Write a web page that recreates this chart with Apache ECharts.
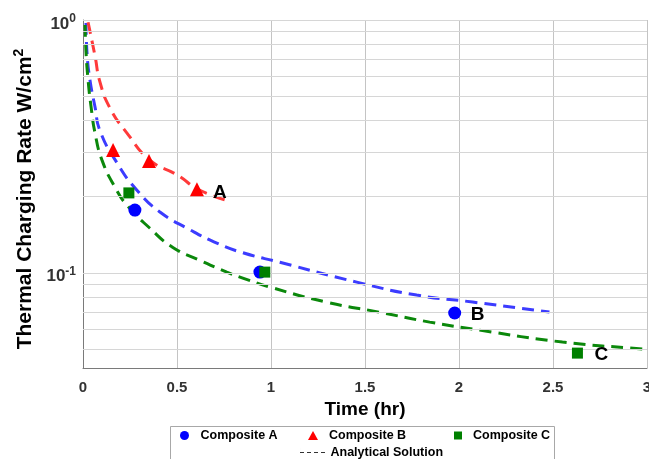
<!DOCTYPE html>
<html>
<head>
<meta charset="utf-8">
<script src="https://cdn.jsdelivr.net/npm/echarts@6/dist/echarts.min.js"></script>
<style>
html,body{margin:0;padding:0;background:#fff}
#chart{width:649px;height:459px}
</style>
</head>
<body>
<div id="chart"></div>
<script>
// 解析解曲线
var curveA_t = [0.016, 0.021, 0.037, 0.064, 0.09, 0.181, 0.287, 0.409, 0.569, 0.712, 0.850, 1.047, 1.456, 1.775, 2.072, 2.481];
var curveA_q = [0.973, 0.747, 0.579, 0.453, 0.365, 0.272, 0.212, 0.174, 0.148, 0.131, 0.120, 0.110, 0.0918, 0.0816, 0.0766, 0.0699];
var curveB_t = [0.027, 0.064, 0.09, 0.143, 0.234, 0.356, 0.50, 0.622, 0.78];
var curveB_q = [0.98, 0.72, 0.569, 0.449, 0.357, 0.279, 0.244, 0.212, 0.192];
var curveC_t = [0.011, 0.016, 0.027, 0.043, 0.064, 0.101, 0.170, 0.234, 0.356, 0.478, 0.622, 0.765, 0.850, 0.994, 1.296, 1.578, 1.844, 2.109, 2.550, 2.975, 3.0];
var curveC_q = [0.955, 0.747, 0.579, 0.453, 0.357, 0.279, 0.218, 0.185, 0.150, 0.126, 0.112, 0.1006, 0.0953, 0.0878, 0.0765, 0.0698, 0.0638, 0.0593, 0.0532, 0.0499, 0.0497];

// 实验点
var pointsA_t = [0.276, 0.941, 1.977];
var pointsA_q = [0.177, 0.1006, 0.0693];
var pointsB_t = [0.16, 0.351, 0.606];
var pointsB_q = [0.306, 0.277, 0.214];
var pointsC_t = [0.244, 0.967, 2.63];
var pointsC_q = [0.207, 0.1006, 0.0481];

// 网格线位置
var yGridValues = [0.05, 0.06, 0.07, 0.08, 0.09, 0.1, 0.2, 0.3, 0.4, 0.5, 0.6, 0.7, 0.8, 0.9, 1];

function zip(xs, ys) {
    var out = [];
    for (var i = 0; i < xs.length; i++) out.push([xs[i], ys[i]]);
    return out;
}

// 最后一个点带字母标注
function withTag(xs, ys, tag, off) {
    var d = zip(xs, ys);
    var last = d.length - 1;
    d[last] = {
        value: d[last],
        label: {show: true, formatter: tag, position: 'inside', offset: off,
            color: '#000', fontSize: 19, fontWeight: 'bold', fontFamily: 'Liberation Sans, Arial'}
    };
    return d;
}

var myChart = echarts.init(document.getElementById('chart'));

var dash = [12, 7];
var font = 'Liberation Sans, Arial, sans-serif';

var legendBase = {
    orient: 'horizontal',
    padding: 0,
    itemWidth: 10,
    itemHeight: 9,
    selectedMode: false,
    textStyle: {fontSize: 12.5, fontWeight: 'bold', color: '#000', fontFamily: font, padding: [0, 0, 0, 6]}
};

var option = {
    animation: false,
    backgroundColor: '#fff',
    grid: {left: 83, right: 2, top: 20, bottom: 91, containLabel: false, outerBoundsMode: 'none'},
    graphic: {
        elements: [{
            type: 'rect', z: -10,
            shape: {x: 170.5, y: 426.5, width: 384, height: 40},
            style: {fill: '#fff', stroke: '#a8a8a8', lineWidth: 1}
        }]
    },
    legend: [
        echarts.util.merge({left: 180, top: 429, data: [{name: 'Composite A', icon: 'circle'}]}, legendBase, false),
        echarts.util.merge({left: 308, top: 429, data: [{name: 'Composite B', icon: 'triangle'}]}, legendBase, false),
        echarts.util.merge({left: 454, top: 429, itemWidth: 8, itemHeight: 8,
            data: [{name: 'Composite C', icon: 'rect'}]}, legendBase, false),
        echarts.util.merge({left: 300, top: 446, itemWidth: 26, itemHeight: 9,
            textStyle: {padding: [0, 0, 0, 0]},
            data: [{name: 'Analytical Solution',
                icon: 'path://M0,4h4v1h-4z M7,4h4v1h-4z M14,4h4v1h-4z M21,4h4v1h-4z M0,0h0.01v9h-0.01z'}]}, legendBase, false)
    ],
    xAxis: {
        type: 'value',
        min: 0, max: 3, interval: 0.5,
        name: 'Time (hr)',
        nameLocation: 'middle',
        nameGap: 31,
        nameTextStyle: {fontSize: 19, fontWeight: 'bold', color: '#000', fontFamily: font},
        axisLine: {show: true, onZero: false, lineStyle: {color: '#7a7a7a', width: 1}},
        axisTick: {show: false},
        axisLabel: {margin: 12, fontSize: 15, fontWeight: 'bold', color: '#333', fontFamily: font},
        splitLine: {show: true, lineStyle: {color: '#c4c4c4', width: 1}}
    },
    yAxis: {
        type: 'log',
        logBase: 10,
        min: 0.042, max: 1,
        name: 'Thermal Charging Rate W/cm{sup|2}',
        nameLocation: 'middle',
        nameGap: 33,
        nameTextStyle: {
            fontSize: 21, fontWeight: 'bold', color: '#000', fontFamily: font,
            padding: [0, 10, 0, 0],
            rich: {sup: {fontSize: 14, fontWeight: 'bold', color: '#000', fontFamily: font, padding: [0, 0, 12, 0]}}
        },
        axisLine: {show: true, lineStyle: {color: '#7a7a7a', width: 1}},
        axisTick: {show: false},
        splitLine: {show: false},
        axisLabel: {
            margin: 7,
            padding: [8, 0, 0, 0],
            fontSize: 17, fontWeight: 'bold', color: '#333', fontFamily: font,
            formatter: function (v) {
                var e = Math.log(v) / Math.LN10;
                if (Math.abs(e - Math.round(e)) < 1e-6) return '10{sup|' + Math.round(e) + '}';
                return '';
            },
            rich: {sup: {fontSize: 12, fontWeight: 'bold', color: '#333', fontFamily: font, padding: [0, 0, 10, 0]}}
        }
    },
    series: [
        {
            name: 'grid', type: 'line', data: [], z: 1, silent: true,
            markLine: {
                silent: true, symbol: 'none', animation: false,
                label: {show: false},
                lineStyle: {color: '#d6d6d6', width: 1, type: 'solid'},
                data: yGridValues.map(function (v) { return {yAxis: v}; })
            }
        },
        {
            name: 'Analytical Solution', type: 'line', data: [], symbol: 'none',
            lineStyle: {color: '#333', width: 1, type: [4, 3]}, itemStyle: {color: '#333'}
        },
        {
            name: 'fitA', type: 'line', data: zip(curveA_t, curveA_q), smooth: true, symbol: 'none', z: 3,
            lineStyle: {color: '#3c3cff', width: 3, type: dash}
        },
        {
            name: 'fitB', type: 'line', data: zip(curveB_t, curveB_q), smooth: true, symbol: 'none', z: 3,
            lineStyle: {color: '#ff3a3a', width: 3, type: dash}
        },
        {
            name: 'fitC', type: 'line', data: zip(curveC_t, curveC_q), smooth: true, symbol: 'none', z: 3,
            lineStyle: {color: '#0b880b', width: 3, type: dash}
        },
        {
            name: 'Composite A', type: 'scatter', symbol: 'circle', symbolSize: 13, z: 5,
            itemStyle: {color: '#0000ff', opacity: 1},
            data: withTag(pointsA_t, pointsA_q, 'B', [23, 2])
        },
        {
            name: 'Composite B', type: 'scatter', symbol: 'triangle', symbolSize: 14, z: 5,
            itemStyle: {color: '#ff0000', opacity: 1},
            data: withTag(pointsB_t, pointsB_q, 'A', [23, 4])
        },
        {
            name: 'Composite C', type: 'scatter', symbol: 'rect', symbolSize: 11, z: 5,
            itemStyle: {color: '#008000', opacity: 1},
            data: withTag(pointsC_t, pointsC_q, 'C', [24, 2])
        }
    ]
};

myChart.setOption(option);
</script>
</body>
</html>
